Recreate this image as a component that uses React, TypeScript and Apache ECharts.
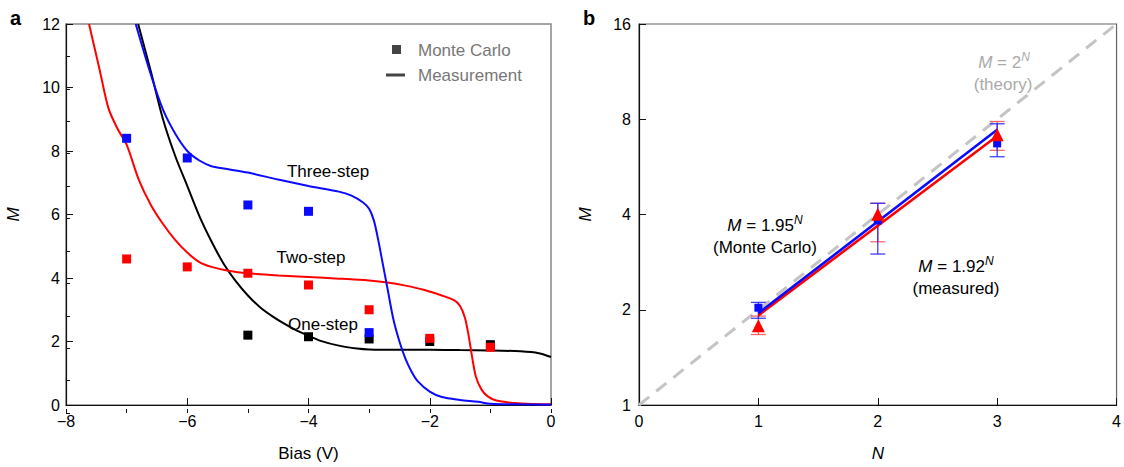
import React, { useEffect, useRef } from "react";
import * as echarts from "echarts";

// ---------- Panel a: M vs bias ----------
const oneStepCurve: number[][] = [
  [-6.81, 12], [-6.6, 10.5], [-6.4, 9.0], [-6.2, 7.85], [-6.0, 6.9], [-5.8, 5.95], [-5.6, 5.15],
  [-5.4, 4.45], [-5.2, 3.9], [-5.0, 3.45], [-4.8, 3.08], [-4.6, 2.8], [-4.4, 2.56], [-4.2, 2.35],
  [-4.0, 2.18], [-3.8, 2.02], [-3.5, 1.87], [-3.2, 1.78], [-3.0, 1.75], [-2.5, 1.74], [-2.0, 1.74],
  [-1.5, 1.73], [-1.0, 1.72], [-0.5, 1.69], [-0.2, 1.63], [0, 1.51],
];
const twoStepCurve: number[][] = [
  [-7.62, 12], [-7.45, 10.6], [-7.3, 9.35], [-7.15, 8.7], [-7.0, 8.2], [-6.8, 7.1], [-6.6, 6.3],
  [-6.4, 5.7], [-6.2, 5.2], [-6.0, 4.8], [-5.8, 4.5], [-5.6, 4.35], [-5.3, 4.22], [-5.0, 4.15],
  [-4.5, 4.08], [-4.0, 4.03], [-3.5, 3.98], [-3.0, 3.92], [-2.7, 3.86], [-2.4, 3.76], [-2.1, 3.63],
  [-1.8, 3.45], [-1.6, 3.3], [-1.5, 3.12], [-1.42, 2.75], [-1.36, 2.2], [-1.3, 1.5], [-1.24, 0.9],
  [-1.15, 0.5], [-1.05, 0.28], [-0.9, 0.14], [-0.6, 0.06], [-0.3, 0.03], [0, 0.02],
];
const threeStepCurve: number[][] = [
  [-6.85, 12], [-6.6, 10.4], [-6.4, 9.3], [-6.2, 8.55], [-6.0, 8.0], [-5.8, 7.7], [-5.6, 7.52],
  [-5.4, 7.45], [-5.0, 7.32], [-4.5, 7.1], [-4.0, 6.9], [-3.5, 6.72], [-3.3, 6.6], [-3.1, 6.38],
  [-3.0, 6.18], [-2.92, 5.8], [-2.85, 5.2], [-2.78, 4.5], [-2.7, 3.7], [-2.6, 2.7], [-2.5, 2.0],
  [-2.4, 1.45], [-2.3, 1.05], [-2.2, 0.75], [-2.0, 0.42], [-1.8, 0.25], [-1.5, 0.16], [-1.2, 0.1],
  [-1.0, 0.04], [-0.5, 0.02], [0, 0.01],
];
const biasMC = [-7, -6, -5, -4, -3, -2, -1];
const oneStepMC = [null, null, 2.2, 2.15, 2.08, 2.0, 1.9];
const twoStepMC = [4.6, 4.35, 4.15, 3.78, 3.0, 2.1, 1.82];
const threeStepMC = [8.4, 7.78, 6.3, 6.1, 2.28, null, null];

// ---------- Panel b: M vs N ----------
const stepsN = [1, 2, 3];
const mcM = [2.03, 3.83, 6.71];
const mcLow = [1.88, 3.0, 6.09];
const mcHigh = [2.11, 4.34, 7.74];
const measM = [1.78, 4.01, 7.15];
const measLow = [1.67, 3.28, 6.38];
const measHigh = [1.91, 4.34, 7.87];
const mcFitBase = 1.95;
const measFitBase = 1.92;
const theoryBase = 2;
const fitRange = [1, 3];
const theoryRange = [0, 4];

const FONT = "'Liberation Sans', Arial, Helvetica, sans-serif";
const BLUE = "#0a0aff";
const RED = "#ff0000";

const pairs = (xs: number[], ys: (number | null)[]) =>
  xs.map((x, i) => [x, ys[i]]).filter((p) => p[1] !== null);

const errorBars = (color: string, lo: number[], hi: number[]) => ({
  type: "custom",
  xAxisIndex: 1,
  yAxisIndex: 1,
  data: stepsN.map((n, i) => [n, lo[i], hi[i]]),
  encode: { x: 0, y: [1, 2] },
  z: 3,
  renderItem: (params: any, api: any) => {
    const x = api.value(0);
    const p1 = api.coord([x, api.value(1)]);
    const p2 = api.coord([x, api.value(2)]);
    const w = 7.5;
    const style = { stroke: color, lineWidth: 1.3 };
    return {
      type: "group",
      children: [
        { type: "line", shape: { x1: p1[0], y1: p1[1], x2: p2[0], y2: p2[1] }, style },
        { type: "line", shape: { x1: p1[0] - w, y1: p1[1], x2: p1[0] + w, y2: p1[1] }, style },
        { type: "line", shape: { x1: p2[0] - w, y1: p2[1], x2: p2[0] + w, y2: p2[1] }, style },
      ],
    };
  },
});

const richEq = (color: string) => ({
  i: { fontStyle: "italic", fontSize: 17, fontFamily: FONT, fill: color, color },
  n: { fontSize: 17, fontFamily: FONT, fill: color, color },
  s: { fontStyle: "italic", fontSize: 12, fontFamily: FONT, fill: color, color, padding: [0, 0, 10, 0] },
});

export default function App() {
  const ref = useRef<HTMLDivElement>(null);
  useEffect(() => {
    const chart = echarts.init(ref.current!, null, { renderer: "svg" });
    const axisLabel = { color: "#000", fontSize: 16, fontFamily: FONT };
    const tickStyle = { color: "#111", width: 1 };
    const gridA = { left: 66, right: 573, top: 24, bottom: 54 };
    const option: any = {
      animation: false,
      textStyle: { fontFamily: FONT },
      grid: [
        { ...gridA, show: true, borderColor: "#888", borderWidth: 1.5 },
        { left: 639, width: 487, top: 24, bottom: 54, show: true, borderColor: "#666", borderWidth: 1.2 },
        { ...gridA, show: false }, // same box as panel a: carries only the short ticks
      ],
      xAxis: [
        {
          gridIndex: 0, type: "value", min: -8, max: 0, interval: 2, position: "bottom",
          name: "Bias (V)", nameLocation: "middle", nameGap: 40,
          nameTextStyle: { color: "#000", fontSize: 17, fontFamily: FONT },
          axisLine: { onZero: false, lineStyle: { color: "#111", width: 1.2 } },
          axisTick: { inside: true, length: 7, lineStyle: tickStyle },
          splitLine: { show: false },
          axisLabel: { ...axisLabel, margin: 8, formatter: (v: number) => (v < 0 ? "\u2212" + Math.abs(v) : String(v)) },
        },
        {
          gridIndex: 1, type: "value", min: 0, max: 4, interval: 1, position: "bottom",
          name: "N", nameLocation: "middle", nameGap: 40,
          nameTextStyle: { color: "#000", fontSize: 17, fontStyle: "italic", fontFamily: FONT },
          axisLine: { onZero: false, lineStyle: { color: "#111", width: 1.2 } },
          axisTick: { inside: true, length: 7, lineStyle: tickStyle },
          splitLine: { show: false },
          axisLabel: { ...axisLabel, margin: 8 },
        },
        {
          gridIndex: 2, type: "value", min: -8, max: 0, interval: 1, position: "bottom",
          axisLine: { show: false, onZero: false }, axisLabel: { show: false }, splitLine: { show: false },
          axisTick: { show: true, inside: true, length: 4, lineStyle: tickStyle },
        },
      ],
      yAxis: [
        {
          gridIndex: 0, type: "value", min: 0, max: 12, interval: 2, position: "left",
          name: "M", nameLocation: "middle", nameGap: 44, nameRotate: 90,
          nameTextStyle: { color: "#000", fontSize: 17, fontStyle: "italic", fontFamily: FONT },
          axisLine: { show: true, onZero: false, lineStyle: { color: "#111", width: 1.2 } },
          axisTick: { show: true, inside: true, length: 7, lineStyle: tickStyle },
          splitLine: { show: false },
          axisLabel: { ...axisLabel, margin: 6 },
        },
        {
          gridIndex: 1, type: "log", logBase: 2, min: 1, max: 16, position: "left",
          name: "M", nameLocation: "middle", nameGap: 45, nameRotate: 90,
          nameTextStyle: { color: "#000", fontSize: 17, fontStyle: "italic", fontFamily: FONT },
          axisLine: { show: true, onZero: false, lineStyle: { color: "#111", width: 1.2 } },
          axisTick: { show: true, inside: true, length: 7, lineStyle: tickStyle },
          splitLine: { show: false },
          axisLabel: { ...axisLabel, margin: 8 },
        },
        {
          gridIndex: 2, type: "value", min: 0, max: 12, interval: 1, position: "left",
          axisLine: { show: false, onZero: false }, axisLabel: { show: false }, splitLine: { show: false },
          axisTick: { show: true, inside: true, length: 4, lineStyle: tickStyle },
        },
      ],
      series: [
        // panel a curves
        { type: "line", xAxisIndex: 0, yAxisIndex: 0, data: oneStepCurve, showSymbol: false, smooth: 0.3, lineStyle: { color: "#000", width: 2 }, z: 2 },
        { type: "line", xAxisIndex: 0, yAxisIndex: 0, data: twoStepCurve, showSymbol: false, smooth: 0.3, lineStyle: { color: RED, width: 2 }, z: 2 },
        { type: "line", xAxisIndex: 0, yAxisIndex: 0, data: threeStepCurve, showSymbol: false, smooth: 0.3, lineStyle: { color: BLUE, width: 2 }, z: 2 },
        // panel a Monte Carlo squares
        { type: "scatter", xAxisIndex: 0, yAxisIndex: 0, data: pairs(biasMC, oneStepMC), symbol: "rect", symbolSize: 9, itemStyle: { color: "#000", opacity: 1 }, z: 4 },
        { type: "scatter", xAxisIndex: 0, yAxisIndex: 0, data: pairs(biasMC, twoStepMC), symbol: "rect", symbolSize: 9, itemStyle: { color: RED, opacity: 1 }, z: 4 },
        { type: "scatter", xAxisIndex: 0, yAxisIndex: 0, data: pairs(biasMC, threeStepMC), symbol: "rect", symbolSize: 9, itemStyle: { color: BLUE, opacity: 1 }, z: 4 },
        // panel b theory
        {
          type: "line", xAxisIndex: 1, yAxisIndex: 1, showSymbol: false,
          data: theoryRange.map((n) => [n, Math.pow(theoryBase, n)]),
          lineStyle: { color: "#c4c4c4", width: 3, type: [13, 9] }, z: 2,
        },
        errorBars("rgba(255,40,40,0.7)", measLow, measHigh),
        errorBars("rgba(30,30,255,0.85)", mcLow, mcHigh),
        {
          type: "line", xAxisIndex: 1, yAxisIndex: 1, showSymbol: false,
          data: fitRange.map((n) => [n, Math.pow(measFitBase, n)]),
          lineStyle: { color: RED, width: 2.6 }, z: 4,
        },
        {
          type: "line", xAxisIndex: 1, yAxisIndex: 1, showSymbol: false,
          data: fitRange.map((n) => [n, Math.pow(mcFitBase, n)]),
          lineStyle: { color: BLUE, width: 2.6 }, z: 5,
        },
        { type: "scatter", xAxisIndex: 1, yAxisIndex: 1, data: pairs(stepsN, mcM), symbol: "rect", symbolSize: 8, itemStyle: { color: BLUE, opacity: 1 }, z: 6 },
        { type: "scatter", xAxisIndex: 1, yAxisIndex: 1, data: pairs(stepsN, measM), symbol: "triangle", symbolSize: 13, itemStyle: { color: RED, opacity: 1 }, z: 6 },
      ],
      graphic: [
        { type: "text", x: 10, y: 18, style: { text: "a", font: `bold 20px ${FONT}`, fill: "#000", verticalAlign: "middle" } },
        { type: "text", x: 583, y: 18, style: { text: "b", font: `bold 20px ${FONT}`, fill: "#000", verticalAlign: "middle" } },
        // legend a
        { type: "rect", shape: { x: 392, y: 45, width: 9, height: 9 }, style: { fill: "#444" } },
        { type: "line", shape: { x1: 386, y1: 75, x2: 405, y2: 75 }, style: { stroke: "#444", lineWidth: 3 } },
        { type: "text", x: 418, y: 50, style: { text: "Monte Carlo", font: `17px ${FONT}`, fill: "#777", verticalAlign: "middle" } },
        { type: "text", x: 418, y: 75, style: { text: "Measurement", font: `17px ${FONT}`, fill: "#777", verticalAlign: "middle" } },
        // panel a labels
        { type: "text", x: 328, y: 171, style: { text: "Three-step", font: `17px ${FONT}`, fill: "#000", align: "center", verticalAlign: "middle" } },
        { type: "text", x: 311, y: 257, style: { text: "Two-step", font: `17px ${FONT}`, fill: "#000", align: "center", verticalAlign: "middle" } },
        { type: "text", x: 323, y: 324, style: { text: "One-step", font: `17px ${FONT}`, fill: "#000", align: "center", verticalAlign: "middle" } },
        // panel b annotations
        { type: "text", x: 765, y: 225, style: { text: "{i|M}{n| = 1.95}{s|N}", rich: richEq("#000"), align: "center", verticalAlign: "middle" } },
        { type: "text", x: 765, y: 247, style: { text: "(Monte Carlo)", font: `17px ${FONT}`, fill: "#000", align: "center", verticalAlign: "middle" } },
        { type: "text", x: 956, y: 266, style: { text: "{i|M}{n| = 1.92}{s|N}", rich: richEq("#000"), align: "center", verticalAlign: "middle" } },
        { type: "text", x: 956, y: 288, style: { text: "(measured)", font: `17px ${FONT}`, fill: "#000", align: "center", verticalAlign: "middle" } },
        { type: "text", x: 1004, y: 62, style: { text: "{i|M}{n| = 2}{s|N}", rich: richEq("#aaa"), align: "center", verticalAlign: "middle" } },
        { type: "text", x: 1003, y: 84, style: { text: "(theory)", font: `17px ${FONT}`, fill: "#aaa", align: "center", verticalAlign: "middle" } },
      ],
    };
    chart.setOption(option);
    return () => chart.dispose();
  }, []);
  return <div ref={ref} style={{ position: "fixed", left: 0, top: 0, width: 1124, height: 467, background: "#fff" }} />;
}
